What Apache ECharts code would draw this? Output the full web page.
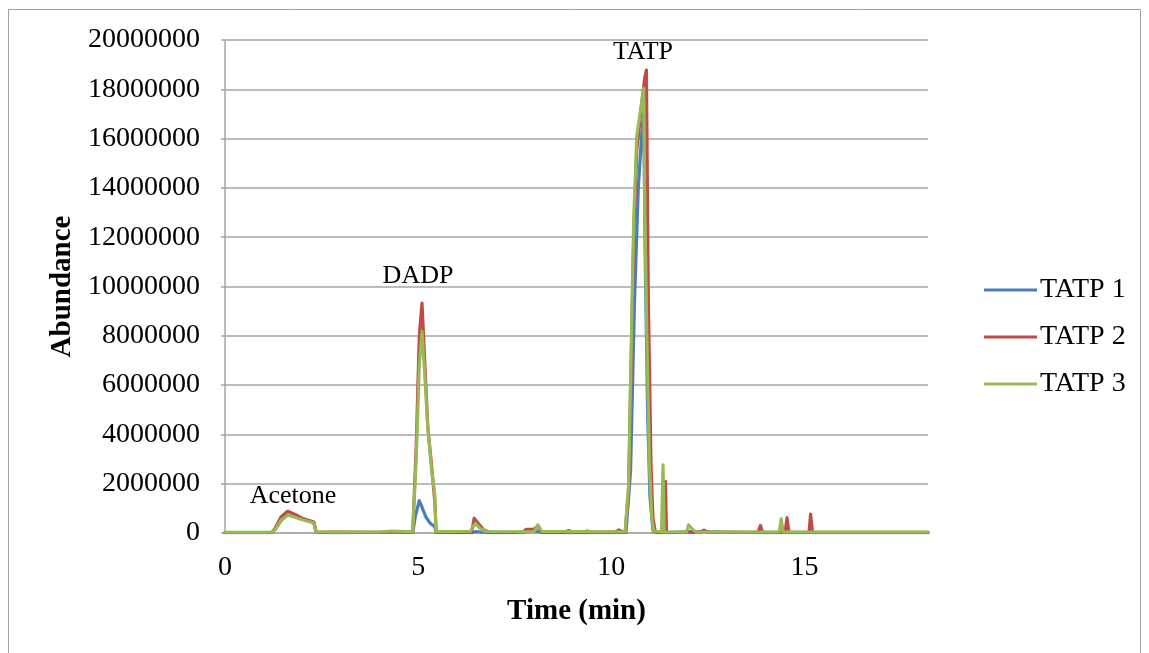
<!DOCTYPE html>
<html>
<head>
<meta charset="utf-8">
<script src="https://cdn.jsdelivr.net/npm/echarts@6/dist/echarts.min.js"></script>
<style>
  html, body { margin: 0; padding: 0; background: #ffffff; }
  #chart { width: 1149px; height: 653px; }
</style>
</head>
<body>
<div id="chart"></div>
<script>
// Total ion chromatograms of three TATP samples (time in minutes, abundance in counts)
const seriesNames = ['TATP 1', 'TATP 2', 'TATP 3'];
const seriesColors = ['#4a7ebb', '#be4b48', '#98b954'];

const tatp1Time = [0, 1.2, 1.3, 1.45, 1.6, 1.75, 2.0, 2.2, 2.3, 2.36, 2.45, 3.0, 4.0, 4.3, 4.6, 4.86,
  4.93, 5.03, 5.1, 5.2, 5.3, 5.43, 5.47, 6.0, 6.4, 6.5, 6.8, 7.5, 8.1, 8.2, 9.0, 10.0,
  10.38, 10.5, 10.6, 10.7, 10.79, 10.84, 10.88, 10.94, 11.0, 11.08, 11.2, 11.35, 11.38, 11.41,
  11.6, 12.0, 14.0, 18.2];
const tatp1Abundance = [10000, 10000, 150000, 500000, 720000, 700000, 560000, 480000, 420000, 20000, 15000, 15000, 20000, 40000, 30000, 20000,
  700000, 1310000, 1050000, 650000, 420000, 250000, 20000, 10000, 10000, 60000, 10000, 10000, 80000, 10000, 10000, 10000,
  20000, 2500000, 9300000, 14000000, 16200000, 17000000, 11000000, 5000000, 1500000, 100000, 10000, 10000, 1900000, 10000,
  10000, 60000, 10000, 10000];

const tatp2Time = [0, 1.22, 1.3, 1.45, 1.62, 1.8, 2.0, 2.2, 2.3, 2.36, 3.0, 4.0, 4.3, 4.6, 4.86,
  4.95, 5.03, 5.1, 5.17, 5.25, 5.35, 5.43, 5.47, 6.0, 6.3, 6.39, 6.45, 6.55, 6.7, 6.85,
  7.7, 7.8, 8.0, 8.1, 8.2, 8.8, 8.9, 9.0, 9.3, 9.38, 9.45, 10.1, 10.2, 10.3, 10.36,
  10.45, 10.49, 10.58, 10.66, 10.8, 10.87, 10.91, 10.96, 11.03, 11.08, 11.14,
  11.36, 11.4, 11.43, 12.3, 12.4, 12.5, 13.8, 13.86, 13.92, 14.5, 14.55, 14.6,
  15.12, 15.16, 15.21, 18.2];
const tatp2Abundance = [20000, 20000, 200000, 650000, 880000, 760000, 600000, 500000, 450000, 30000, 40000, 30000, 60000, 50000, 40000,
  3500000, 8000000, 9330000, 7000000, 4300000, 2700000, 1300000, 40000, 40000, 50000, 60000, 600000, 400000, 120000, 30000,
  30000, 150000, 150000, 300000, 40000, 40000, 100000, 40000, 40000, 80000, 40000, 40000, 120000, 40000, 30000,
  1800000, 5000000, 12000000, 15500000, 17600000, 18500000, 18780000, 9450000, 2700000, 600000, 50000,
  30000, 2100000, 30000, 30000, 120000, 30000, 30000, 300000, 30000, 30000, 620000, 30000,
  30000, 770000, 30000, 30000];

const tatp3Time = [0, 1.22, 1.3, 1.45, 1.63, 1.8, 2.0, 2.2, 2.3, 2.36, 3.0, 4.0, 4.3, 4.7, 4.86,
  4.95, 5.03, 5.1, 5.17, 5.25, 5.35, 5.43, 5.46, 6.0, 6.35, 6.48, 6.6, 6.75,
  8.0, 8.1, 8.2, 8.85, 8.9, 9.0, 9.35, 9.4, 9.5, 10.36,
  10.45, 10.49, 10.58, 10.66, 10.84, 10.87, 10.92, 10.99, 11.05, 11.1,
  11.3, 11.34, 11.37, 11.95, 12.0, 12.1, 12.2, 14.35, 14.4, 14.45, 18.2];
const tatp3Abundance = [30000, 30000, 150000, 520000, 730000, 650000, 540000, 460000, 400000, 40000, 40000, 40000, 80000, 60000, 50000,
  3000000, 6800000, 8170000, 6500000, 4300000, 2500000, 1600000, 60000, 60000, 70000, 390000, 200000, 60000,
  50000, 325000, 60000, 60000, 100000, 60000, 60000, 80000, 50000, 50000,
  2000000, 5400000, 12700000, 16100000, 18040000, 13000000, 8100000, 2700000, 600000, 80000,
  40000, 2760000, 40000, 40000, 330000, 150000, 40000, 40000, 570000, 40000, 40000];

const xTicks = [0, 5, 10, 15];
const yTicks = [0, 2000000, 4000000, 6000000, 8000000, 10000000, 12000000, 14000000, 16000000, 18000000, 20000000];
const peakLabels = ['Acetone', 'DADP', 'TATP'];

const seriesTimes = [tatp1Time, tatp2Time, tatp3Time];
const seriesValues = [tatp1Abundance, tatp2Abundance, tatp3Abundance];

const serif = "'Liberation Serif', 'Times New Roman', serif";
const axisGray = '#a6a6a6';

const chart = echarts.init(document.getElementById('chart'), null, { renderer: 'canvas' });

const series = seriesNames.map((name, i) => ({
  name: name,
  type: 'line',
  data: seriesTimes[i].map((t, k) => [t, seriesValues[i][k]]),
  symbol: 'none',
  showSymbol: false,
  smooth: false,
  lineStyle: { color: seriesColors[i], width: 3.2, join: 'round', cap: 'round' },
  itemStyle: { color: seriesColors[i] },
  z: 2 + i
}));

chart.setOption({
  animation: false,
  backgroundColor: '#ffffff',
  grid: { left: 225, right: 221, top: 40, bottom: 120, containLabel: false },
  xAxis: {
    type: 'value',
    min: 0,
    max: 18.2,
    interval: 5,
    name: 'Time (min)',
    nameLocation: 'middle',
    nameGap: 64,
    nameTextStyle: { fontFamily: serif, fontSize: 29, fontWeight: 'bold', color: '#000' },
    axisLine: { show: true, lineStyle: { color: axisGray, width: 1.5 } },
    axisTick: { show: false },
    splitLine: { show: false },
    axisLabel: {
      margin: 21,
      fontFamily: serif,
      fontSize: 28,
      color: '#000',
      formatter: v => (xTicks.includes(v) ? String(v) : '')
    }
  },
  yAxis: {
    type: 'value',
    min: yTicks[0],
    max: yTicks[yTicks.length - 1],
    interval: yTicks[1] - yTicks[0],
    name: 'Abundance',
    nameLocation: 'middle',
    nameGap: 148,
    nameTextStyle: { fontFamily: serif, fontSize: 29, fontWeight: 'bold', color: '#000' },
    axisLine: { show: true, lineStyle: { color: axisGray, width: 1.5 } },
    axisTick: { show: true, length: 4, lineStyle: { color: axisGray, width: 1.5 } },
    splitLine: { show: true, lineStyle: { color: axisGray, width: 1.5 } },
    axisLabel: {
      margin: 25,
      fontFamily: serif,
      fontSize: 28,
      color: '#000',
      formatter: v => String(v)
    }
  },
  legend: {
    orient: 'vertical',
    left: 979,
    top: 271,
    itemWidth: 53,
    itemHeight: 14,
    itemGap: 19,
    icon: 'path://M0,6L53,6L53,9L0,9Z',
    data: seriesNames,
    textStyle: { fontFamily: serif, fontSize: 28, color: '#000', lineHeight: 28, padding: [0, 0, 0, -2] }
  },
  graphic: [
    {
      type: 'rect',
      silent: true,
      shape: { x: 8.5, y: 9.5, width: 1132, height: 700 },
      style: { fill: 'none', stroke: '#a0a0a0', lineWidth: 1 }
    },
    {
      type: 'text', silent: true, x: 293, y: 496,
      style: { text: peakLabels[0], font: '26px ' + serif, fill: '#000', align: 'center', verticalAlign: 'middle' }
    },
    {
      type: 'text', silent: true, x: 418, y: 276,
      style: { text: peakLabels[1], font: '26px ' + serif, fill: '#000', align: 'center', verticalAlign: 'middle' }
    },
    {
      type: 'text', silent: true, x: 643, y: 52,
      style: { text: peakLabels[2], font: '26px ' + serif, fill: '#000', align: 'center', verticalAlign: 'middle' }
    }
  ],
  series: series
});
</script>
</body>
</html>
